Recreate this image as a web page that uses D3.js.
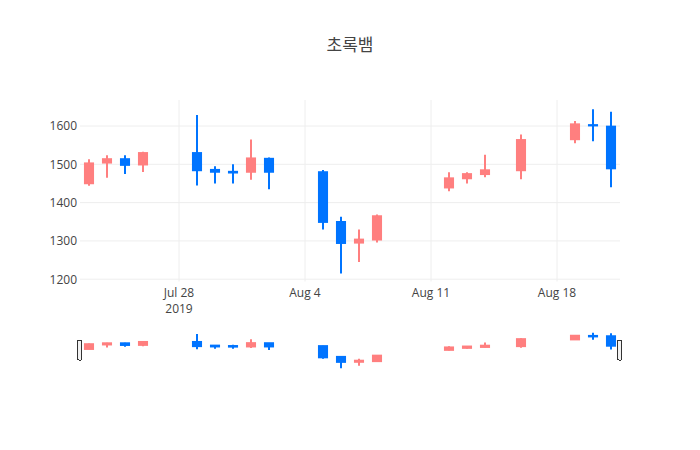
<!DOCTYPE html>
<html><head><meta charset="utf-8">
<script src="https://cdn.jsdelivr.net/npm/d3@7"></script>
<style>body{margin:0;background:#fff}svg{display:block}</style>
</head><body><svg id="c" width="700" height="450"></svg>
<script>
const dates = ["2019-07-23","2019-07-24","2019-07-25","2019-07-26","2019-07-29","2019-07-30","2019-07-31","2019-08-01","2019-08-02","2019-08-05","2019-08-06","2019-08-07","2019-08-08","2019-08-12","2019-08-13","2019-08-14","2019-08-16","2019-08-19","2019-08-20","2019-08-21"];
const open  = [1448,1502,1516,1497,1532,1488,1483,1478,1517,1482,1352,1293,1301,1437,1461,1472,1482,1563,1605,1601];
const high  = [1513,1524,1524,1533,1629,1495,1500,1565,1518,1485,1363,1330,1369,1479,1479,1525,1578,1613,1644,1637];
const low   = [1444,1465,1475,1480,1445,1450,1450,1460,1435,1330,1215,1245,1296,1430,1450,1466,1461,1555,1560,1440];
const close = [1505,1516,1496,1532,1482,1478,1476,1518,1478,1347,1292,1306,1367,1466,1477,1487,1566,1607,1599,1487];
const yTicks = [1200,1300,1400,1500,1600];
const title = "초록뱀";

const upColor = "#FF7F7F", downColor = "#0074FF";
const font = "'Open Sans','Noto Sans CJK KR',verdana,arial,sans-serif";
const data = dates.map((d,i)=>({date:new Date(d+"T00:00:00Z"),o:open[i],h:high[i],l:low[i],c:close[i]}));

const svg = d3.select("#c");
const L=80, R=620, T=100, B=281.5;
const day = 864e5;
const x = d3.scaleUtc().domain([new Date(Date.parse("2019-07-23T00:00:00Z")-day/2), new Date(Date.parse("2019-08-21T00:00:00Z")+day/2)]).range([L,R]);
const y = d3.scaleLinear().domain([1194,1668]).range([B,T]);

// title
svg.append("text").attr("x",350).attr("y",51).attr("text-anchor","middle")
  .style("font-family",font).style("font-size","17px").style("fill","#444").text(title);

// grid
const xt = x.ticks(d3.utcSunday.every(1));
const g = svg.append("g");
g.selectAll(".xg").data(xt).join("line").attr("x1",d=>x(d)).attr("x2",d=>x(d)).attr("y1",T).attr("y2",B).attr("stroke","#eee").attr("stroke-width",1);
g.selectAll(".yg").data(yTicks).join("line").attr("x1",L).attr("x2",R).attr("y1",d=>y(d)).attr("y2",d=>y(d)).attr("stroke","#eee").attr("stroke-width",1);

// axes labels
const yAxis = d3.axisLeft(y).tickValues(yTicks).tickSize(0).tickPadding(3).tickFormat(d3.format("d"));
const ya = svg.append("g").attr("transform",`translate(${L},0)`).call(yAxis);
ya.select(".domain").remove();
ya.selectAll("text").style("font-family",font).style("font-size","12px").attr("fill","#444");

const fmt = d3.utcFormat("%b %-d");
const xa = svg.append("g");
xt.forEach((d,i)=>{
  xa.append("text").attr("x",x(d)).attr("y",296.5).attr("text-anchor","middle")
   .style("font-family",font).style("font-size","12px").attr("fill","#444").text(fmt(d));
  if(i===0) xa.append("text").attr("x",x(d)).attr("y",313).attr("text-anchor","middle")
   .style("font-family",font).style("font-size","12px").attr("fill","#444").text(d3.utcFormat("%Y")(d));
});

function drawCandles(sel, ys, lw, inset){
  const hw = (x(new Date(day))-x(new Date(0)))*0.28;
  const cg = sel.selectAll("g.cd").data(data).join("g");
  cg.append("line").attr("x1",d=>x(d.date)).attr("x2",d=>x(d.date))
    .attr("y1",d=>ys(d.h)).attr("y2",d=>ys(d.l))
    .attr("stroke",d=>d.c>=d.o?upColor:downColor).attr("stroke-width",lw);
  cg.append("rect").attr("x",d=>x(d.date)-hw+1).attr("width",hw*2-2)
    .attr("y",d=>{const h=Math.abs(ys(d.o)-ys(d.c)); return ys(Math.max(d.o,d.c)) + Math.min(inset, h/2);})
    .attr("height",d=>{const h=Math.abs(ys(d.o)-ys(d.c)); return Math.max(0.01, h-2*Math.min(inset,h/2));})
    .attr("fill",d=>d.c>=d.o?upColor:downColor)
    .attr("stroke",d=>d.c>=d.o?upColor:downColor).attr("stroke-width",lw);
}
drawCandles(svg.append("g"), y, 2, 1);

// range slider
const sT=330.7, sB=370;
const ys = d3.scaleLinear().domain(y.domain()).range([sB,sT]);
drawCandles(svg.append("g"), ys, 2, 0);
[L,R].forEach(px=>{
  svg.append("rect").attr("x",px-2.5).attr("y",340).attr("width",4).attr("height",20).attr("rx",1)
    .attr("fill","#f2f2f2").attr("stroke","#333").attr("stroke-width",1).attr("shape-rendering","crispEdges");
});
</script></body></html>
